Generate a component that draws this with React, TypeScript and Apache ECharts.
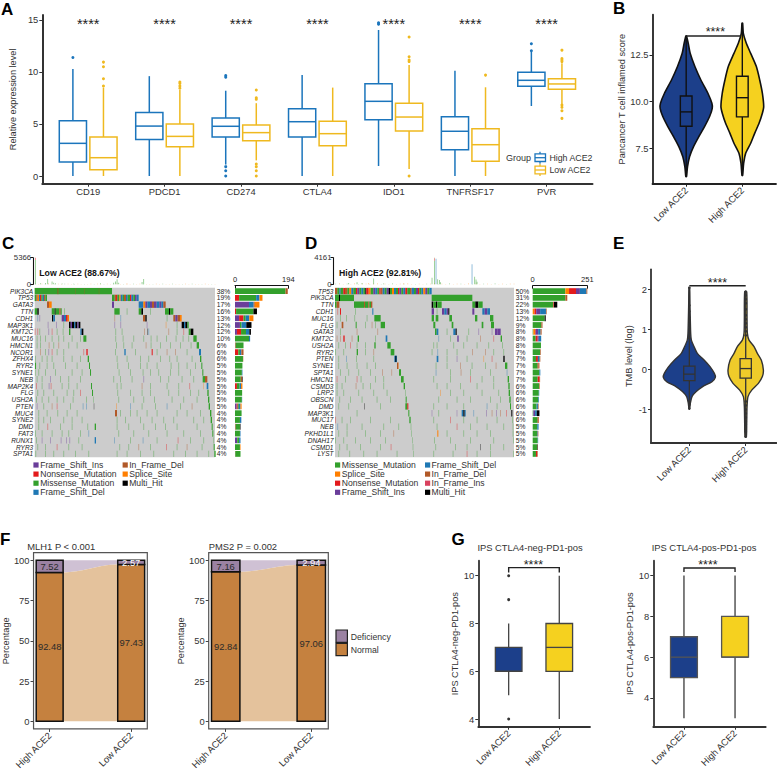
import React, { useEffect, useRef } from "react";
import * as echarts from "echarts";

const FONT = '"Liberation Sans", Arial, sans-serif';
const TXT = "#333333";
const P = 0, R = 1, G = 2, B = 3, N = 4, O = 5, K = 6, I = 7;
const MUT = ["#6A3D9A", "#E31A1C", "#33A02C", "#1F78B4", "#B15928", "#FF7F00", "#000000", "#D9415E"];
const NAVY = "#1C3F8A";
const GOLD = "#F5D11F";
const BLUE = "#1B75BC";
const YEL = "#EFB91F";

/* ---------- Panel A ---------- */
const aGenes = ["CD19", "PDCD1", "CD274", "CTLA4", "IDO1", "TNFRSF17", "PVR"];
const aHigh = [
  [0, 1.35, 3.14, 5.32, 10.3],
  [0, 3.5, 4.8, 6.1, 9.6],
  [1.1, 3.75, 4.78, 5.58, 8.2],
  [0, 3.75, 5.22, 6.47, 9.7],
  [0.96, 5.42, 7.18, 8.88, 14.04],
  [0, 2.53, 4.3, 5.7, 10.13],
  [6.73, 8.62, 9.2, 9.97, 11.95],
];
const aLow = [
  [0, 0.6, 1.76, 3.75, 8.5],
  [0, 2.82, 3.81, 5.0, 8.27],
  [1.5, 3.4, 4.17, 4.9, 7.0],
  [0, 2.92, 4.07, 5.26, 8.5],
  [0.67, 4.33, 5.67, 7.0, 10.67],
  [0, 1.41, 3.01, 4.55, 8.53],
  [6.9, 8.33, 8.85, 9.36, 10.83],
];
const aHighOut = [[11.4], [], [9.5, 9.65, 0.9, 0.5, 0], [], [14.6, 14.74], [], [12.05, 12.72]];
const aLowOut = [
  [8.65, 9.35, 10.5, 10.95],
  [8.43, 8.65, 8.9, 9.04],
  [8.27, 7.53, 7.37, 1.15, 0.9, 0.5, 0],
  [],
  [13.37, 11.47, 11.15, 11.0, 0],
  [9.7],
  [12.1, 11.3, 11.15, 11, 6.83, 6.6, 6.28, 5.54],
];

/* ---------- Panel B ---------- */
const bLowViolin = [[13.52,.006],[13.13,.036],[12.59,.071],[11.88,.155],[11.16,.262],[10.45,.387],[9.91,.458],[9.64,.464],[9.2,.417],[8.66,.327],[8.13,.226],[7.59,.131],[7.05,.06],[6.52,.024],[5.98,.006]];
const bHighViolin = [[14.2,.006],[13.66,.018],[13.13,.071],[12.59,.149],[11.88,.25],[11.16,.31],[10.45,.357],[9.73,.381],[9.38,.357],[8.84,.298],[8.3,.22],[7.77,.149],[7.23,.06],[6.7,.024],[6.04,.006]];
const bBoxes = [[0, 5.98, 8.68, 9.45, 10.3, 13.4], [1, 6.04, 9.18, 10.21, 11.36, 14.2]];

/* ---------- Panel E ---------- */
const eLowViolin = [[2.04,.006],[1.57,.012],[.9,.024],[.73,.036],[.57,.083],[.4,.142],[.23,.266],[.07,.367],[-.1,.444],[-.2,.462],[-.31,.402],[-.43,.237],[-.56,.118],[-.68,.047],[-.85,.018],[-.98,.006]];
const eHighViolin = [[1.94,.018],[1.23,.024],[.9,.03],[.73,.059],[.57,.148],[.4,.207],[.23,.278],[-.02,.314],[-.18,.296],[-.35,.225],[-.52,.107],[-.68,.041],[-.93,.024],[-1.35,.018],[-1.68,.012]];
const eBoxes = [[0, -0.98, -0.28, -0.12, 0.08, 2.04], [1, -1.68, -0.22, 0.02, 0.27, 1.94]];
const eLowOut = [2.04, 1.6, 1.45, 1.3, 1.2, 1.1, 1.0, 0.92, 0.85, 0.78, -0.8, -0.88, -0.98];
const eHighOut = [1.94, 1.85, 1.75, 1.65, 1.5, 1.35, 1.25, 1.15, 1.05, 0.95, 0.85, -0.8, -0.9, -1.0, -1.1, -1.2, -1.3, -1.38, -1.55, -1.68];

/* ---------- Panel C ---------- */
const cGenes = ["PIK3CA","TP53","GATA3","TTN","CDH1","MAP3K1","KMT2C","MUC16","HMCN1","NCOR1","ZFHX4","RYR2","SYNE1","NEB","MAP2K4","FLG","USH2A","PTEN","MUC4","SYNE2","DMD","FAT3","RUNX1","RYR3","SPTA1"];
const cPct = ["38%","19%","17%","16%","13%","12%","12%","10%","6%","6%","6%","5%","5%","5%","5%","5%","5%","5%","4%","4%","4%","4%","4%","4%","4%"];
const cBarP = [0,0,51,0,15,18,7,0,0,0,0,0,0,0,0,0,0,6,0,0,0,0,8,0,0];
const cBarR = [0,15,0,4,16,0,15,0,2,12,0,0,0,0,7,0,0,4,0,0,2,0,0,0,1];
const cBarG = [184,62,0,63,8,6,18,51,29,6,29,27,25,21,10,26,25,4,24,18,16,18,7,18,19];
const cBarB = [0,12,17,0,13,17,12,4,0,5,0,0,2,0,5,0,1,6,0,5,0,2,5,0,0];
const cBarN = [8,0,4,0,0,0,0,0,0,8,1,0,0,5,0,0,0,0,0,0,0,0,0,0,0];
const cBarO = [0,11,17,0,15,0,0,0,0,0,0,0,0,0,5,0,0,4,0,0,0,0,0,2,0];
const cBarK = [0,0,0,13,0,19,6,0,0,0,0,0,0,2,0,0,0,0,0,0,2,0,0,0,0];
const cCells = [
  [[104,336,G],[175,177,N],[225,227,N],[253,255,N],[296,298,N],[172,174,R]],
  [[104,109,G],[109,113,N],[113,117,O],[117,120,B],[120,124,R],[124,128,G],[128,132,B],[132,136,N],[136,141,G],[336,344,G],[344,348,N],[348,352,R],[352,358,G],[358,362,O],[362,368,B],[368,372,G],[372,378,N],[378,383,B],[383,390,G],[390,394,R],[394,400,B],[400,405,G],[405,410,P],[410,416,B]],
  [[141,147,N],[147,155,O],[336,342,P],[416,430,B],[430,436,O],[436,442,P],[442,450,B],[450,456,P],[456,462,N],[462,470,P],[470,478,B],[478,484,P],[484,490,B],[490,497,N]],
  [[104,112,G],[112,116,K],[155,164,G],[164,167,K],[167,178,G],[178,182,N],[182,185,G],[343,359,G],[416,424,G],[424,429,K],[495,507,G],[507,511,K],[511,520,G],[192,G],[380,G],[450,G]],
  [[156,160,K],[160,165,B],[185,192,P],[192,198,B],[198,203,R],[203,207,O],[429,436,N],[436,440,K],[520,526,N],[526,533,P],[533,540,N],[540,545,O],[112,B],[118,P],[343,N],[361,B],[500,G]],
  [[207,212,K],[212,216,P],[216,222,K],[222,226,B],[226,232,K],[232,236,P],[236,241,K],[545,552,K],[552,556,B],[556,562,K],[562,566,G],[143,P],[168,P],[190,G],[343,P],[361,P],[440,P],[497,O],[530,G]],
  [[207,211,G],[241,245,B],[245,250,K],[566,572,G],[572,580,K],[104,R],[112,R],[118,G],[145,P],[155,R],[170,G],[188,G],[346,G],[365,G],[432,N],[441,K],[445,B],[505,N],[530,G],[550,R]],
  [[250,259,G],[580,590,G],[110,G],[120,G],[155,G],[175,G],[190,G],[346,G],[368,G],[430,G],[452,G],[498,G],[527,G],[548,G],[135,G],[215,G],[240,G],[400,G],[470,G],[565,G]],
  [[590,597,G],[120,G],[146,N],[175,N],[205,G],[348,G],[370,G],[437,N],[452,G],[510,G],[540,G],[110,G],[160,G],[230,G],[395,G],[480,G],[572,G]],
  [[259,263,R],[373,377,B],[455,458,R],[597,603,B],[120,N],[145,P],[155,R],[170,G],[250,R],[345,G],[500,N],[525,N],[135,G],[190,G],[405,G],[470,G],[560,G]],
  [[263,267,G],[600,604,G],[105,G],[125,G],[155,G],[190,G],[350,G],[380,G],[445,G],[508,G],[530,G],[140,G],[215,G],[240,G],[420,G],[480,G],[575,G]],
  [[267,270,G],[604,607,G],[105,108,G],[118,G],[160,G],[230,G],[352,G],[384,G],[420,G],[470,G],[512,G],[560,G],[140,G],[195,G],[440,G],[535,G],[585,G]],
  [[270,273,G],[607,610,G],[105,107,G],[115,G],[165,G],[215,G],[356,G],[390,G],[428,G],[475,G],[535,G],[135,G],[245,G],[450,G],[510,G],[570,G]],
  [[608,615,G],[615,622,N],[125,G],[150,P],[180,G],[240,G],[360,G],[395,G],[430,P],[480,G],[545,G],[110,G],[205,G],[340,G],[505,G],[580,G]],
  [[273,276,G],[610,612,O],[620,625,B],[108,R],[146,P],[152,R],[185,G],[205,G],[350,G],[362,G],[425,N],[500,G],[568,R],[125,G],[230,G],[450,G],[535,G]],
  [[276,279,G],[622,626,G],[130,G],[160,G],[200,G],[240,R],[352,G],[390,G],[450,G],[505,G],[570,G],[112,G],[220,G],[425,G],[535,G],[595,G]],
  [[279,281,G],[624,628,G],[108,G],[125,G],[170,G],[218,G],[258,G],[355,G],[400,G],[462,G],[515,G],[145,G],[190,G],[430,G],[550,G],[590,G]],
  [[281,283,K],[626,630,G],[110,P],[155,N],[170,R],[248,B],[258,B],[348,O],[390,B],[500,B],[540,G],[575,N],[130,G],[210,G],[425,G],[465,G]],
  [[345,351,N],[630,634,G],[140,G],[172,G],[230,G],[360,G],[410,G],[470,G],[560,G],[115,G],[200,G],[390,G],[440,G],[530,G],[600,G]],
  [[632,636,G],[115,G],[150,G],[190,G],[245,G],[375,G],[420,G],[520,G],[580,G],[130,G],[215,G],[350,G],[455,G],[490,G],[610,G]],
  [[284,288,G],[635,638,G],[142,R],[180,G],[262,G],[350,G],[430,G],[495,G],[115,G],[215,G],[385,G],[465,G],[530,G],[590,G]],
  [[637,640,G],[105,G],[155,G],[205,G],[265,B],[355,G],[445,G],[550,G],[125,G],[185,G],[240,G],[400,G],[500,G],[600,G]],
  [[284,288,B],[640,642,G],[108,G],[125,P],[150,P],[182,P],[198,P],[208,P],[342,B],[428,B],[533,R],[570,G],[235,G],[390,G],[470,G],[610,G]],
  [[641,644,G],[112,G],[170,R],[245,G],[358,G],[415,N],[498,R],[560,N],[605,G],[135,G],[205,G],[385,G],[450,G],[530,G]],
  [[643,647,G],[106,G],[135,G],[225,G],[350,G],[420,G],[520,G],[590,G],[625,G],[160,G],[190,G],[265,G],[380,G],[460,G],[555,G]],
];
const cTop = [[105,0,4900,G],[105,4900,5366,R],[142,0,1070,G],[155,0,540,G],[160,0,330,G],[165,0,200,G],[120,0,200,G],[135,0,270,G],[220,0,130,G],[300,0,200,G],[340,0,330,G],[345,0,540,G],[350,0,1000,G],[355,0,330,G],[425,0,470,G],[430,0,1070,G],[185,0,150,G],[380,0,130,O]];
const cTopTiny = [90,60,120,50,140,70,40,110,60,90,130,50,70,100,40,80,60,120,50,90,70,40,110,60,80,130,50,70,90,40,100,60,120,50,80,70,40,110,60,90,50,70,130,40,80,60,100,50,90,70,40,60,110,50,80,70];
const cLegend1 = [["Frame_Shift_Ins", P], ["Nonsense_Mutation", R], ["Missense_Mutation", G], ["Frame_Shift_Del", B]];
const cLegend2 = [["In_Frame_Del", N], ["Splice_Site", O], ["Multi_Hit", K]];

/* ---------- Panel D ---------- */
const dGenes = ["TP53","PIK3CA","TTN","CDH1","MUC16","FLG","GATA3","KMT2C","USH2A","RYR2","PTEN","SYNE1","SPTA1","HMCN1","CSMD3","LRP2","OBSCN","DMD","MAP3K1","MUC17","NEB","PKHD1L1","DNAH17","CSMD1","LYST"];
const dPct = ["50%","31%","22%","13%","12%","9%","8%","8%","8%","7%","7%","7%","7%","7%","6%","6%","6%","6%","6%","6%","5%","5%","5%","5%","5%"];
const dBarG = [150,150,95,0,55,40,3,14,38,34,15,23,31,23,29,28,26,18,3,23,21,20,23,20,15];
const dBarO = [17,0,0,8,0,0,8,0,0,0,0,0,0,0,0,0,0,0,0,0,0,0,0,0,0];
const dBarR = [32,0,3,8,0,0,3,9,0,0,9,3,0,9,0,0,0,0,0,3,0,0,0,0,5];
const dBarP = [18,0,0,18,0,0,11,5,0,0,0,0,0,0,0,0,0,0,8,0,0,0,0,0,0];
const dBarB = [30,0,0,27,0,0,11,11,0,0,8,0,4,0,0,2,3,6,8,0,6,3,2,0,0];
const dBarN = [4,9,0,3,0,5,5,0,0,3,3,5,0,2,3,0,0,3,0,3,0,3,0,2,3];
const dBarK = [0,0,15,0,5,0,0,0,0,0,0,0,0,0,0,0,0,0,12,0,0,0,0,2,0];
const dCells = [
  [[135,142,N],[142,148,G],[148,152,B],[152,160,G],[160,165,R],[165,172,N],[172,178,G],[178,184,O],[184,190,B],[190,198,G],[198,202,R],[202,208,P],[208,214,G],[214,220,B],[220,226,G],[226,229,K],[229,236,R],[236,242,O],[242,250,G],[250,256,P],[256,262,B],[262,268,G],[268,272,R],[272,278,N],[278,284,B],[284,290,G],[290,296,P],[296,300,K],[300,306,G],[306,312,O],[312,318,B],[318,324,G],[324,328,R],[328,334,P],[334,340,G],[340,346,B],[346,352,R],[352,360,G],[360,365,N],[365,372,B],[372,378,G],[378,384,P],[384,388,R],[388,394,G],[394,400,B],[400,406,O],[406,412,P],[412,418,G],[418,425,B]],
  [[135,192,G],[147,150,K],[425,547,G]],
  [[135,140,G],[140,148,N],[192,222,G],[222,225,N],[225,235,G],[235,238,N],[238,243,G],[243,247,N],[425,430,K],[430,438,G],[438,442,K],[442,455,G],[547,556,G],[556,565,K],[565,578,G]],
  [[150,153,R],[247,250,B],[425,432,P],[456,463,P],[463,470,B],[470,475,P],[475,478,K],[547,553,P],[577,584,B],[584,592,P],[592,600,B],[142,R],[195,G],[440,G]],
  [[253,272,G],[425,432,G],[437,445,G],[478,486,G],[555,562,G],[600,610,G],[150,G],[193,G],[230,G],[168,G]],
  [[272,285,G],[155,160,N],[197,200,G],[430,436,G],[485,490,G],[575,580,G],[603,612,G],[225,G],[245,N],[140,G],[255,G]],
  [[490,497,B],[497,500,K],[615,622,P],[622,632,P],[435,440,G],[440,445,B],[565,P],[605,P],[150,G],[200,N],[262,N],[470,G],[535,G]],
  [[287,292,B],[160,164,R],[203,207,G],[632,636,G],[502,506,P],[140,N],[150,N],[185,N],[255,G],[445,B],[570,N],[610,R],[480,G],[530,G]],
  [[292,302,G],[200,G],[253,257,G],[145,G],[180,R],[430,G],[440,G],[490,G],[520,G],[560,G],[636,G],[165,G],[225,G],[595,G]],
  [[302,313,G],[135,G],[200,204,G],[250,N],[425,G],[442,B],[500,G],[546,N],[585,N],[640,G],[160,G],[225,G],[470,G],[610,G]],
  [[313,321,B],[316,319,K],[168,B],[198,G],[500,P],[640,644,K],[440,445,B],[580,O],[605,R],[250,G],[145,G],[470,G],[530,G]],
  [[321,325,N],[325,327,O],[645,652,G],[145,G],[200,G],[255,G],[437,G],[510,N],[545,G],[617,N],[170,G],[230,G],[470,G],[585,G]],
  [[327,333,G],[276,N],[304,N],[512,N],[437,B],[150,G],[205,G],[480,G],[600,G],[650,B],[175,G],[240,G],[540,G]],
  [[333,341,G],[653,657,G],[140,R],[200,R],[212,G],[255,G],[430,G],[480,G],[540,R],[610,G],[165,G],[280,G],[575,G]],
  [[341,345,G],[155,G],[197,N],[218,G],[280,G],[440,G],[510,G],[560,G],[655,659,G],[140,G],[240,G],[470,G],[610,G]],
  [[345,347,G],[160,G],[205,G],[290,G],[450,O],[520,G],[575,G],[656,660,G],[140,G],[250,G],[480,G],[625,G]],
  [[347,350,G],[148,G],[215,G],[300,G],[445,G],[500,G],[600,G],[658,662,G],[180,G],[260,G],[540,G],[630,G]],
  [[346,352,G],[352,355,R],[222,K],[175,G],[430,G],[470,G],[590,B],[660,663,G],[145,G],[270,G],[520,G],[620,G]],
  [[355,358,G],[425,427,P],[500,502,P],[515,520,B],[520,524,K],[524,527,B],[588,P],[605,N],[618,P],[630,N],[648,R],[664,667,K],[445,G],[550,B],[200,G]],
  [[358,362,G],[135,R],[180,G],[240,G],[430,G],[480,R],[560,G],[666,G],[155,G],[300,G],[520,G],[620,G]],
  [[362,364,G],[142,B],[668,670,G],[215,G],[280,G],[440,G],[500,R],[590,G],[170,G],[325,G],[540,G],[640,G]],
  [[364,366,G],[442,445,O],[310,N],[225,G],[170,G],[520,G],[600,G],[668,G],[145,G],[270,G],[470,G],[560,G]],
  [[366,368,G],[670,672,G],[135,G],[195,G],[285,G],[432,G],[540,G],[160,G],[240,G],[480,G],[610,G]],
  [[368,370,G],[148,G],[170,G],[270,G],[302,R],[436,G],[495,G],[570,K],[640,G],[210,G],[530,G],[600,G]],
  [[370,372,G],[670,672,G],[178,G],[260,G],[430,G],[488,G],[530,R],[600,G],[145,G],[220,G],[320,G],[560,G]],
];
const dTop = [[432,0,3700,G],[432,3700,4000,R],[432,4000,4161,N],[437,0,4000,B],[425,0,1040,G],[447,0,680,G],[442,0,800,G],[545,0,3120,B],[553,0,1200,G],[557,0,750,G],[560,0,400,G],[250,0,900,G],[200,0,320,G],[215,0,200,G],[175,0,200,G],[450,0,330,G],[235,0,150,O],[280,0,130,G],[340,0,130,O]];
const dTopTiny = [70,110,50,90,40,130,60,80,100,50,70,120,40,90,60,110,50,80,70,140,40,60,100,50,90,70,120,40,80,60,110,50,70,90,40,130,60,80,50,100,70,40,110,60,90,50,80,70];
const dLegend1 = [["Missense_Mutation", G], ["Splice_Site", O], ["Nonsense_Mutation", R], ["Frame_Shift_Ins", P]];
const dLegend2 = [["Frame_Shift_Del", B], ["In_Frame_Del", N], ["In_Frame_Ins", I], ["Multi_Hit", K]];

/* ---------- Panel F ---------- */
const fGroups = ["High ACE2", "Low ACE2"];
const fMlh1Normal = [92.48, 97.43];
const fMlh1Deficiency = [7.52, 2.57];
const fPms2Normal = [92.84, 97.06];
const fPms2Deficiency = [7.16, 2.94];

/* ---------- Panel G ---------- */
const gNegBoxes = [[0, 5, 6, 6, 7, 8], [1, 4, 6, 7, 8, 10]];
const gNegOut = [[0, 10], [0, 9], [0, 4]];
const gPosBoxes = [[0, 3, 5, 6, 7, 10], [1, 3, 6, 6, 8, 10]];
const lowHigh = ["Low ACE2", "High ACE2"];

function buildOption() {
  const grids: any[] = [], xAxes: any[] = [], yAxes: any[] = [], series: any[] = [], graphics: any[] = [];

  const addGrid = (l: number, t: number, r: number, b: number, extra: any = {}) => {
    grids.push({ left: l, top: t, width: r - l, height: b - t, containLabel: false, ...extra });
    return grids.length - 1;
  };
  const valX = (g: number, min: number, max: number, labels: string[], o: any = {}) => {
    const idx = labels.map((_, i) => i);
    const id = xAxes.length;
    xAxes.push({
      gridIndex: g, type: "value", min, max,
      axisLine: { show: o.line !== false, onZero: false, lineStyle: { color: o.color || "#333", width: o.lw ?? 1.8 } },
      axisTick: { show: true, length: 3, customValues: idx, lineStyle: { color: o.color || "#333", width: 1 } },
      axisLabel: { customValues: idx, formatter: (v: number) => labels[v], rotate: o.rotate || 0, fontSize: o.fs || 9.4, color: TXT, fontFamily: FONT, margin: o.margin ?? 5 },
      splitLine: { show: false },
    });
    return id;
  };
  const valY = (g: number, min: number, max: number, ticks: number[], o: any = {}) => {
    const id = yAxes.length;
    yAxes.push({
      gridIndex: g, type: "value", min, max,
      name: o.name, nameLocation: "middle", nameGap: o.nameGap, nameRotate: 90,
      nameTextStyle: { fontSize: o.nfs || 9.2, color: TXT, fontFamily: FONT },
      axisLine: { show: o.line !== false, onZero: false, lineStyle: { color: o.color || "#333", width: o.lw ?? 1.8 } },
      axisTick: { show: true, length: 3, customValues: ticks, lineStyle: { color: o.color || "#333", width: 1 } },
      axisLabel: { customValues: ticks, formatter: o.fmt || ((v: number) => String(v)), fontSize: o.fs || 9.4, color: TXT, fontFamily: FONT, margin: o.margin ?? 4 },
      splitLine: { show: false },
    });
    return id;
  };

  const boxSeries = (x: number, y: number, rows: number[][], hw: number, stroke: string, lw: number, fills: (string | null)[], whiskerW?: number) => {
    series.push({
      type: "custom", xAxisIndex: x, yAxisIndex: y, data: rows, encode: { x: 0, y: [1, 2, 3, 4, 5] },
      renderItem: (p: any, api: any) => {
        const cx = api.value(0);
        const c = (xx: number, i: number) => api.coord([xx, api.value(i)]);
        const X = c(cx, 1)[0], L = c(cx - hw, 2)[0], Rr = c(cx + hw, 2)[0];
        const yLo = c(cx, 1)[1], q1 = c(cx, 2)[1], med = c(cx, 3)[1], q3 = c(cx, 4)[1], yHi = c(cx, 5)[1];
        const sty = { stroke, lineWidth: lw, fill: "none" };
        const wsty = { stroke, lineWidth: whiskerW ?? lw };
        return {
          type: "group",
          children: [
            { type: "line", shape: { x1: X, y1: yLo, x2: X, y2: q1 }, style: wsty },
            { type: "line", shape: { x1: X, y1: q3, x2: X, y2: yHi }, style: wsty },
            { type: "rect", shape: { x: L, y: q3, width: Rr - L, height: q1 - q3 }, style: { ...sty, fill: fills[p.dataIndex] || "none" } },
            { type: "line", shape: { x1: L, y1: med, x2: Rr, y2: med }, style: sty },
          ],
        };
      },
    });
  };
  const dots = (x: number, y: number, pts: number[][], color: string, size: number) =>
    series.push({ type: "scatter", xAxisIndex: x, yAxisIndex: y, data: pts, symbolSize: size, itemStyle: { color, opacity: 1 }, silent: true });
  const violin = (x: number, y: number, center: number, pts: number[][], fill: string, stroke: string, lw: number) =>
    series.push({
      type: "custom", xAxisIndex: x, yAxisIndex: y, data: pts, encode: { x: 1, y: 0 },
      renderItem: (p: any, api: any) => {
        if (p.dataIndex !== 0) return null;
        const left = pts.map((q) => api.coord([center - q[1], q[0]]));
        const right = pts.map((q) => api.coord([center + q[1], q[0]])).reverse();
        return { type: "polygon", shape: { points: [...left, ...right], smooth: 0.25 }, style: { fill, stroke, lineWidth: lw, lineJoin: "round" } };
      },
    });
  const bracket = (x: number, y: number, x0: number, x1: number, yy: number, tip: number, color: string) =>
    series.push({
      type: "custom", xAxisIndex: x, yAxisIndex: y, data: [[x0, x1, yy, yy - tip]], encode: { x: [0, 1], y: [2, 3] },
      renderItem: (_p: any, api: any) => {
        const a = api.coord([api.value(0), api.value(3)]), b = api.coord([api.value(0), api.value(2)]);
        const c = api.coord([api.value(1), api.value(2)]), d = api.coord([api.value(1), api.value(3)]);
        return { type: "polyline", shape: { points: [a, b, c, d] }, style: { stroke: color, lineWidth: 1.4, fill: "none" } };
      },
    });
  const stars = (x: number, y: number, pts: number[][], fs: number) =>
    series.push({
      type: "custom", xAxisIndex: x, yAxisIndex: y, data: pts, encode: { x: 0, y: 1 },
      renderItem: (_p: any, api: any) => {
        const a = api.coord([api.value(0), api.value(1)]);
        return { type: "text", x: a[0], y: a[1] + fs * 0.2, style: { text: "****", fill: "#222", font: `${fs}px ${FONT}`, textAlign: "center", textVerticalAlign: "middle" } };
      },
    });
  const text = (x: number, y: number, t: string, font: string, o: any = {}) =>
    graphics.push({ type: "text", x, y, rotation: o.rot || 0, silent: true, style: { text: t, font, fill: o.fill || TXT, textAlign: o.align || "left", textVerticalAlign: "middle" } });
  const letter = (x: number, y: number, t: string) => text(x, y, t, `bold 17px ${FONT}`, { fill: "#000" });

  /* Panel A */
  {
    const g = addGrid(31, 15, 592.5, 183.7);
    const xi = valX(g, -0.6, 6.6, aGenes, { margin: 3.5, lw: 2 });
    const yi = valY(g, -0.74, 15.48, [0, 5, 10, 15], { name: "Relative expression level", nameGap: 18.5, lw: 2 });
    boxSeries(xi, yi, aHigh.map((r, i) => [i - 0.2, ...r]), 0.178, BLUE, 1.5, []);
    boxSeries(xi, yi, aLow.map((r, i) => [i + 0.2, ...r]), 0.178, YEL, 1.5, []);
    dots(xi, yi, aHighOut.flatMap((o, i) => o.map((v) => [i - 0.2, v])), BLUE, 3);
    dots(xi, yi, aLowOut.flatMap((o, i) => o.map((v) => [i + 0.2, v])), YEL, 3);
    stars(xi, yi, aGenes.map((_, i) => [i, 14.94]), 14.5);
    text(506, 157.7, "Group", `9px ${FONT}`);
    text(549.4, 157.7, "High ACE2", `8.8px ${FONT}`);
    text(549.4, 170, "Low ACE2", `8.8px ${FONT}`);
    [[157.7, BLUE], [170, YEL]].forEach(([yy, c]: any) => {
      graphics.push({ type: "line", silent: true, shape: { x1: 540, y1: yy - 6, x2: 540, y2: yy + 6 }, style: { stroke: c, lineWidth: 1.3 } });
      graphics.push({ type: "rect", silent: true, shape: { x: 535, y: yy - 3.8, width: 10.5, height: 7.6 }, style: { stroke: c, lineWidth: 1.3, fill: "#fff" } });
      graphics.push({ type: "line", silent: true, shape: { x1: 535, y1: yy, x2: 545.5, y2: yy }, style: { stroke: c, lineWidth: 1.3 } });
    });
    letter(1, 9, "A");
  }

  /* Panel B */
  {
    const g = addGrid(652.5, 14.7, 776, 183.7);
    const xi = valX(g, -0.6, 1.6, ["Low ACE2", "High ACE2"], { rotate: 45, color: "#222" });
    const yi = valY(g, 5.6, 14.66, [7.5, 10, 12.5], { name: "Pancancer T cell inflamed score", nameGap: 26, fmt: (v: number) => v.toFixed(1), color: "#222" });
    violin(xi, yi, 0, bLowViolin, NAVY, "#111", 1.6);
    violin(xi, yi, 1, bHighViolin, GOLD, "#111", 1.6);
    boxSeries(xi, yi, bBoxes, 0.104, "#111", 1.4, []);
    bracket(xi, yi, 0, 0.97, 13.52, 0, "#222");
    stars(xi, yi, [[0.52, 13.87]], 12.5);
    letter(613, 8, "B");
  }

  /* Oncoplot helper */
  const onco = (o: any) => {
    const g = addGrid(o.x0, 287.7, o.x1, 457.3, { show: true, backgroundColor: "#CCCCCC", borderWidth: 0 });
    const xi = xAxes.length;
    xAxes.push({ gridIndex: g, type: "value", min: o.min, max: o.max, show: false, splitLine: { show: false } });
    const yi = yAxes.length;
    yAxes.push({
      gridIndex: g, type: "category", inverse: true, data: o.genes, position: "left",
      axisLine: { show: false }, axisTick: { show: false }, splitLine: { show: false },
      axisLabel: { interval: 0, fontSize: 6.5, fontStyle: "italic", color: "#222", fontFamily: FONT, margin: 1.5 },
    });
    yAxes.push({
      gridIndex: g, type: "category", inverse: true, data: o.pct, position: "right",
      axisLine: { show: false }, axisTick: { show: false }, splitLine: { show: false },
      axisLabel: { interval: 0, fontSize: 6.7, color: "#222", fontFamily: FONT, margin: 1.7 },
    });
    const cells: number[][] = [];
    o.cells.forEach((row: number[][], r: number) =>
      row.forEach((c) => cells.push(c.length === 2 ? [r, c[0], c[0] + 2.4, c[1]] : [r, c[0], c[1], c[2]]))
    );
    series.push({
      type: "custom", xAxisIndex: xi, yAxisIndex: yi, data: cells, encode: { x: [1, 2], y: 0 },
      renderItem: (_p: any, api: any) => {
        const a = api.coord([api.value(1), api.value(0)]), b = api.coord([api.value(2), api.value(0)]);
        const h = api.size([0, 1])[1];
        const thin = api.value(2) - api.value(1) < 2.5;
        return { type: "rect", shape: { x: a[0], y: a[1] - h / 2 + 0.2, width: b[0] - a[0], height: h - 0.4 }, style: { fill: MUT[api.value(3)], opacity: thin ? 0.45 : 1 } };
      },
    });
    // top burden bars
    const gt = addGrid(o.x0, 257.7, o.x1, 284.3);
    const xt = xAxes.length;
    xAxes.push({ gridIndex: gt, type: "value", min: o.min, max: o.max, show: false, splitLine: { show: false } });
    const yt = valY(gt, 0, o.topMax, [0, o.topMax], { color: "#111", lw: 1.1, fs: 7.8, margin: 2, line: true });
    yAxes[yt].offset = 1.5;
    const tiny = o.tiny.map((v: number, i: number) => [o.min + 1 + (i * (o.max - o.min - 2)) / (o.tiny.length - 1), 0, v, i % 3 === 0 ? G : O]);
    series.push({
      type: "custom", xAxisIndex: xt, yAxisIndex: yt, data: [...tiny, ...o.top], encode: { x: 0, y: [1, 2] },
      renderItem: (_p: any, api: any) => {
        const a = api.coord([api.value(0), api.value(1)]), b = api.coord([api.value(0) + 2.2, api.value(2)]);
        return { type: "rect", shape: { x: a[0], y: b[1], width: b[0] - a[0], height: a[1] - b[1] }, style: { fill: MUT[api.value(3)], opacity: 0.65 } };
      },
    });
    // right stacked bars
    const gb = addGrid(o.bx0, 287.7, o.bx1, 457.3);
    const xb = xAxes.length;
    xAxes.push({
      gridIndex: gb, type: "value", position: "top", min: 0, max: o.barMax, offset: 2,
      axisLine: { show: true, onZero: false, lineStyle: { color: "#111", width: 1 } },
      axisTick: { show: true, inside: true, length: 3, customValues: [0, o.barMax], lineStyle: { color: "#111" } },
      axisLabel: { customValues: [0, o.barMax], fontSize: 7.5, color: "#222", fontFamily: FONT, margin: 2 },
      splitLine: { show: false },
    });
    const yb = yAxes.length;
    yAxes.push({ gridIndex: gb, type: "category", inverse: true, data: o.genes, show: false });
    o.bars.forEach(([t, d]: any) =>
      series.push({ type: "bar", xAxisIndex: xb, yAxisIndex: yb, stack: o.stack, barWidth: 5.8, data: d, itemStyle: { color: MUT[t] }, silent: true })
    );
    text(o.titleX, 272.7, o.title, `bold 8.7px ${FONT}`, { fill: "#111" });
    const sq = (x: number, y: number, t: number) =>
      graphics.push({ type: "rect", silent: true, shape: { x, y: y - 2.6, width: 5.2, height: 5.2 }, style: { fill: MUT[t] } });
    o.leg1.forEach(([s, t]: any, i: number) => { sq(o.lx1, 465 + i * 9.1, t); text(o.lx1 + 6.8, 465 + i * 9.1, s, `8.6px ${FONT}`); });
    o.leg2.forEach(([s, t]: any, i: number) => { sq(o.lx2, 465 + i * 9.1, t); text(o.lx2 + 6.6, 465 + i * 9.1, s, `8.6px ${FONT}`); });
  };

  onco({
    stack: "lowAce2", x0: 34.7, x1: 215, min: 104, max: 645, genes: cGenes, pct: cPct, cells: cCells, top: cTop, tiny: cTopTiny, topMax: 5366,
    bx0: 235, bx1: 288.3, barMax: 194,
    bars: [[P, cBarP], [R, cBarR], [G, cBarG], [B, cBarB], [N, cBarN], [O, cBarO], [K, cBarK]],
    title: "Low ACE2 (88.67%)", titleX: 39.3, leg1: cLegend1, leg2: cLegend2, lx1: 33.4, lx2: 122.6,
  });
  onco({
    stack: "highAce2", x0: 335, x1: 514, min: 135, max: 672, genes: dGenes, pct: dPct, cells: dCells, top: dTop, tiny: dTopTiny, topMax: 4161,
    bx0: 532.7, bx1: 587.3, barMax: 251,
    bars: [[G, dBarG], [O, dBarO], [R, dBarR], [P, dBarP], [B, dBarB], [N, dBarN], [K, dBarK]],
    title: "High ACE2 (92.81%)", titleX: 339, leg1: dLegend1, leg2: dLegend2, lx1: 335, lx2: 425,
  });
  letter(2, 243, "C");
  letter(305, 243, "D");

  /* Panel E */
  {
    const g = addGrid(651, 269.3, 776.7, 443);
    const xi = valX(g, -0.68, 1.55, lowHigh, { rotate: 45 });
    const yi = valY(g, -1.84, 2.5, [-1, 0, 1, 2], { name: "TMB level (log)", nameGap: 18 });
    dots(xi, yi, eLowOut.map((v) => [0, v]), "#333", 2.6);
    dots(xi, yi, eHighOut.map((v) => [1, v]), "#333", 2.8);
    violin(xi, yi, 0, eLowViolin, NAVY, "#333", 1.4);
    violin(xi, yi, 1, eHighViolin, "#EFCB2A", "#333", 1.4);
    boxSeries(xi, yi, eBoxes, 0.1, "#333", 1.3, []);
    bracket(xi, yi, 0, 1, 2.09, 0, "#222");
    stars(xi, yi, [[0.5, 2.23]], 12.5);
    letter(613, 243, "E");
  }

  /* Panel F */
  const alluvial = (x0: number, x1: number, normal: number[], def: number[], title: string, yTitleGap: number, yName: string) => {
    const g = addGrid(x0, 552.7, x1, 730, { show: true, backgroundColor: "transparent", borderColor: "#555", borderWidth: 1.2 });
    const dx = (x1 - x0 - 34);
    const xi = valX(g, -17 / dx, 1 + 17 / dx, fGroups, { rotate: 45, line: false, color: "#444" });
    const yi = valY(g, -4.75, 104.75, [0, 25, 50, 75, 100], { name: yName, nameGap: yTitleGap, line: false, color: "#444" });
    const hw = 14.2 / dx;
    const curve = (a: number, b: number, u: number) => a + (b - a) * (u * u * (3 - 2 * u));
    const steps = Array.from({ length: 25 }, (_, i) => i / 24);
    series.push({
      type: "custom", xAxisIndex: xi, yAxisIndex: yi, data: [[0, 0], [1, 100]], encode: { x: 0, y: 1 },
      renderItem: (p: any, api: any) => {
        if (p.dataIndex !== 0) return null;
        const top = steps.map((u) => api.coord([hw + (1 - 2 * hw) * u, curve(normal[0], normal[1], u)]));
        const a0 = api.coord([1 - hw, 100]), a1 = api.coord([hw, 100]), b0 = api.coord([1 - hw, 0]), b1 = api.coord([hw, 0]);
        return {
          type: "group",
          children: [
            { type: "polygon", shape: { points: [...top, a0, a1] }, style: { fill: "#CFC1D4" } },
            { type: "polygon", shape: { points: [...top, b0, b1] }, style: { fill: "#E4C29C" } },
          ],
        };
      },
    });
    const strata = [
      [0, 0, normal[0], 0], [0, normal[0], 100, 1],
      [1, 0, normal[1], 0], [1, normal[1], 100, 1],
    ];
    series.push({
      type: "custom", xAxisIndex: xi, yAxisIndex: yi, data: strata, encode: { x: 0, y: [1, 2] },
      renderItem: (_p: any, api: any) => {
        const c = api.value(0);
        const a = api.coord([c - hw, api.value(1)]), b = api.coord([c + hw, api.value(2)]);
        return { type: "rect", shape: { x: a[0], y: b[1], width: b[0] - a[0], height: a[1] - b[1] }, style: { fill: api.value(3) ? "#9B82A3" : "#C5813F", stroke: "#111", lineWidth: 1.5 } };
      },
    });
    const labels = [
      [0, normal[0] / 2, normal[0], 0], [0, normal[0] + def[0] / 2, def[0], 0],
      [1, normal[1] / 2, normal[1], 0], [1, normal[1] + def[1] / 2, def[1], 1],
    ];
    series.push({
      type: "custom", xAxisIndex: xi, yAxisIndex: yi, data: labels, encode: { x: 0, y: 1 },
      renderItem: (_p: any, api: any) => {
        const a = api.coord([api.value(0), api.value(1)]);
        return { type: "text", x: a[0], y: a[1], style: { text: api.value(2).toFixed(2), fill: api.value(3) ? "#fff" : "#2a2a2a", font: `9.4px ${FONT}`, textAlign: "center", textVerticalAlign: "middle" } };
      },
    });
    text(x0, 546, title, `9.4px ${FONT}`);
  };
  alluvial(27.3, 147.3, fMlh1Normal, fMlh1Deficiency, "MLH1 P < 0.001", 20, "Percentage");
  alluvial(208.7, 328.3, fPms2Normal, fPms2Deficiency, "PMS2 P = 0.002", 20, "Percentage");
  graphics.push({ type: "rect", silent: true, shape: { x: 336, y: 630, width: 11.4, height: 12.3 }, style: { fill: "#9B82A3", stroke: "#222", lineWidth: 1.2 } });
  graphics.push({ type: "rect", silent: true, shape: { x: 336, y: 643.3, width: 11.4, height: 12.3 }, style: { fill: "#C5813F", stroke: "#222", lineWidth: 1.2 } });
  text(350.7, 636.7, "Deficiency", `8.7px ${FONT}`);
  text(350.7, 650, "Normal", `8.7px ${FONT}`);
  letter(0, 539, "F");

  /* Panel G */
  {
    const g = addGrid(478.3, 560.7, 590, 726.7);
    const xi = valX(g, -0.6, 1.607, lowHigh, { rotate: 45 });
    const yi = valY(g, 3.68, 10.63, [4, 6, 8, 10], { name: "IPS CTLA4-neg-PD1-pos", nameGap: 16.5 });
    boxSeries(xi, yi, gNegBoxes, 0.263, "#444", 1.3, [NAVY, GOLD]);
    dots(xi, yi, gNegOut, "#333", 3);
    bracket(xi, yi, 0, 1, 10.34, 0.2, "#222");
    stars(xi, yi, [[0.49, 10.55]], 12.5);
    text(530, 547, "IPS CTLA4-neg-PD1-pos", `9.4px ${FONT}`, { align: "center" });
    letter(451.5, 539, "G");
  }
  {
    const g = addGrid(653.3, 560.7, 765.7, 726.7);
    const xi = valX(g, -0.6, 1.6, lowHigh, { rotate: 45 });
    const yi = valY(g, 2.59, 10.73, [4, 6, 8, 10], { name: "IPS CTLA4-pos-PD1-pos", nameGap: 18 });
    boxSeries(xi, yi, gPosBoxes, 0.263, "#555", 1.3, [NAVY, GOLD], 1.5);
    bracket(xi, yi, 0, 1, 10.37, 0.2, "#222");
    stars(xi, yi, [[0.47, 10.63]], 12.5);
    text(704, 547, "IPS CTLA4-pos-PD1-pos", `9.4px ${FONT}`, { align: "center" });
  }

  return { animation: false, backgroundColor: "#fff", textStyle: { fontFamily: FONT }, grid: grids, xAxis: xAxes, yAxis: yAxes, series, graphic: graphics, tooltip: { show: false } };
}

export default function App() {
  const ref = useRef<HTMLDivElement>(null);
  useEffect(() => {
    document.body.style.margin = "0";
    const chart = echarts.init(ref.current!, null, { renderer: "svg" });
    chart.setOption(buildOption());
    return () => chart.dispose();
  }, []);
  return <div ref={ref} style={{ width: 777, height: 772 }} />;
}
